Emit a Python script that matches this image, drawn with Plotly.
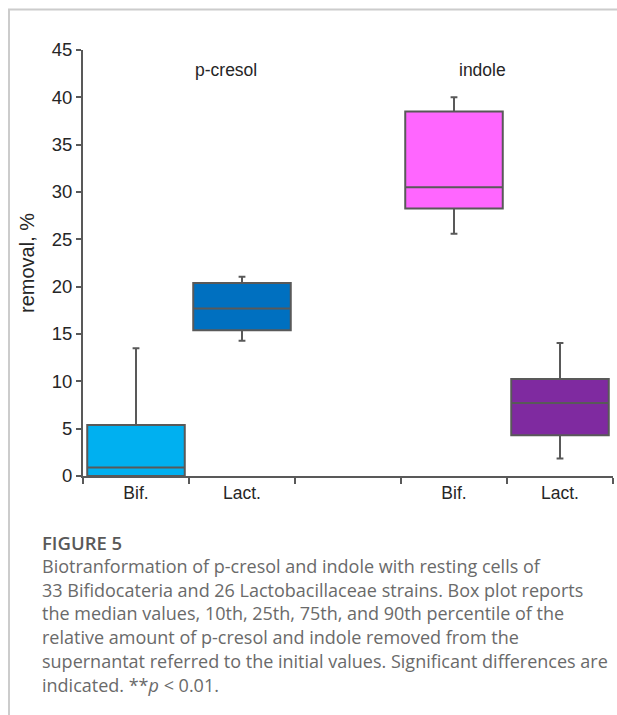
import plotly.graph_objects as go

# ---- data ----
groups = ["p-cresol", "p-cresol", "indole", "indole"]
strains = ["Bif.", "Lact.", "Bif.", "Lact."]
slot_index = [0, 1, 3, 4]           # category slots on the x axis (slot 2 is a gap)
p10 = [0.0, 14.3, 25.6, 1.85]
p25 = [0.0, 15.4, 28.25, 4.3]
median = [0.9, 17.7, 30.5, 7.7]
p75 = [5.4, 20.4, 38.5, 10.25]
p90 = [13.5, 21.05, 40.0, 14.05]
colors = ["#00B0F0", "#0070C0", "#FF66FF", "#7F2AA0"]

tick_labels = ["Bif.", "Lact.", "", "Bif.", "Lact."]
y_ticks = [0, 5, 10, 15, 20, 25, 30, 35, 40, 45]

caption_title = "FIGURE 5"
caption_lines = [
    "Biotranformation of p-cresol and indole with resting cells of",
    "33 Bifidocateria and 26 Lactobacillaceae strains. Box plot reports",
    "the median values, 10th, 25th, 75th, and 90th percentile of the",
    "relative amount of p-cresol and indole removed from the",
    "supernantat referred to the initial values. Significant differences are",
    "indicated. **<i>p</i> &lt; 0.01.",
]

W, H = 617, 715
L, R, T, B = 83, 4, 50, 239
pw, ph = W - L - R, H - T - B

def px(x):
    return (x - L) / pw

def py(y):
    return (H - B - y) / ph

AXC = "#595959"
TXT = "#262626"
FONT = "Liberation Sans, Arial, sans-serif"

fig = go.Figure()
for i in range(len(strains)):
    fig.add_trace(go.Box(
        x=[slot_index[i]],
        q1=[p25[i]], median=[median[i]], q3=[p75[i]],
        lowerfence=[p10[i]], upperfence=[p90[i]],
        width=0.92,
        whiskerwidth=0.07,
        fillcolor=colors[i],
        line=dict(color=AXC, width=2),
        boxpoints=False,
        name=f"{groups[i]} {strains[i]}",
        showlegend=False,
        hoverinfo="skip",
    ))

fig.update_layout(
    width=W, height=H,
    margin=dict(l=L, r=R, t=T, b=B),
    paper_bgcolor="white", plot_bgcolor="white",
    font=dict(family=FONT, size=17, color=TXT),
    xaxis=dict(
        range=[-0.5, 4.5],
        tickmode="array", tickvals=[0, 1, 2, 3, 4], ticktext=tick_labels,
        ticks="", showgrid=False, zeroline=False,
        showline=True, linecolor=AXC, linewidth=2,
        tickfont=dict(size=17.5, color=TXT),
        minor=dict(tickmode="array", tickvals=[-0.5, 0.5, 1.5, 2.5, 3.5, 4.5],
                   ticks="outside", ticklen=6, tickcolor=AXC, tickwidth=2,
                   showgrid=False),
        fixedrange=True,
    ),
    yaxis=dict(
        range=[0, 45],
        tickmode="array", tickvals=y_ticks,
        ticks="outside", ticklen=5, tickcolor=AXC, tickwidth=2,
        showgrid=False, zeroline=False,
        showline=True, linecolor=AXC, linewidth=2,
        tickfont=dict(size=18.5, color=TXT),
        title=dict(text="removal, %", font=dict(size=20, color=TXT), standoff=12),
        fixedrange=True,
    ),
)

ann = []
ann.append(dict(text="p-cresol", x=px(193), y=py(58), xref="paper", yref="paper",
                showarrow=False, font=dict(size=17.5, color=TXT, family=FONT)))
ann.append(dict(text="indole", x=px(508), y=py(58), xref="paper", yref="paper",
                showarrow=False, font=dict(size=17.5, color=TXT, family=FONT)))

CAPF = "Open Sans, Noto Sans, sans-serif"
ann.append(dict(text=caption_title, x=px(40), y=py(542), xref="paper", yref="paper",
                xanchor="left", yanchor="middle", showarrow=False,
                font=dict(size=18.5, color="#595959", family=CAPF, weight=600)))
line_y = [566, 589.7, 613.4, 637.1, 660.8, 684.5]
for t, yy in zip(caption_lines, line_y):
    ann.append(dict(text=t, x=px(40), y=py(yy), xref="paper", yref="paper",
                    xanchor="left", yanchor="middle", showarrow=False,
                    font=dict(size=18, color="#6a6a6a", family=CAPF)))
fig.update_layout(annotations=ann)

# page frame lines
fig.add_shape(type="line", xref="paper", yref="paper",
              x0=px(8), x1=px(617), y0=py(9.5), y1=py(9.5),
              line=dict(color="#cccccc", width=2))
fig.add_shape(type="line", xref="paper", yref="paper",
              x0=px(9), x1=px(9), y0=py(9), y1=py(715),
              line=dict(color="#cccccc", width=2))

fig.write_html("out.html",
               config={"displayModeBar": False},
               post_script="document.body.style.margin='0';document.body.style.padding='0';")
